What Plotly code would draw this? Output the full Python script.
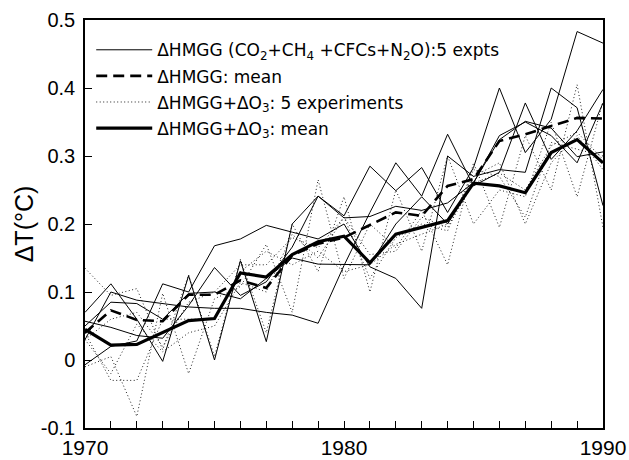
import plotly.graph_objects as go

years = list(range(1970, 1991))

# Delta HMGG: 5 experiments (thin solid)
hmgg_a = [0.07, 0.112, 0.06, -0.002, 0.124, 0.0, 0.146, 0.027, 0.2, 0.241, 0.212, 0.285, 0.249, 0.283, 0.217, 0.283, 0.4, 0.305, 0.354, 0.483, 0.466]
hmgg_b = [0.03, 0.1, 0.088, 0.083, 0.078, 0.076, 0.076, 0.07, 0.066, 0.054, 0.139, 0.217, 0.29, 0.241, 0.332, 0.256, 0.276, 0.378, 0.295, 0.337, 0.398]
hmgg_c = [-0.007, 0.02, 0.028, 0.112, 0.1, 0.168, 0.178, 0.198, 0.188, 0.178, 0.2, 0.137, 0.12, 0.076, 0.3, 0.27, 0.28, 0.276, 0.4, 0.371, 0.227]
hmgg_d = [0.05, 0.085, 0.083, 0.06, 0.098, 0.1, 0.09, 0.12, 0.15, 0.141, 0.14, 0.14, 0.2, 0.24, 0.2, 0.26, 0.33, 0.35, 0.33, 0.29, 0.378]
hmgg_e = [0.057, 0.048, 0.036, 0.032, 0.08, 0.136, 0.095, 0.115, 0.166, 0.241, 0.209, 0.211, 0.226, 0.22, 0.231, 0.261, 0.324, 0.351, 0.341, 0.299, 0.306]

# Delta HMGG: mean (dashed)
hmgg_mean = [0.04, 0.073, 0.059, 0.057, 0.096, 0.096, 0.117, 0.106, 0.154, 0.171, 0.18, 0.198, 0.217, 0.212, 0.256, 0.266, 0.322, 0.332, 0.344, 0.356, 0.355]

# Delta HMGG + Delta O3: 5 experiments (dotted)
o3_p = [0.135, 0.095, 0.105, 0.015, 0.125, 0.005, 0.148, 0.04, 0.2, 0.13, 0.24, 0.1, 0.25, 0.16, 0.3, 0.2, 0.25, 0.24, 0.35, 0.24, 0.38]
o3_q = [-0.01, 0.005, -0.083, 0.098, -0.02, 0.09, 0.108, 0.17, 0.07, 0.265, 0.12, 0.2, 0.165, 0.22, 0.14, 0.29, 0.195, 0.33, 0.25, 0.405, 0.195]
o3_r = [0.04, -0.03, -0.03, 0.06, 0.06, 0.06, 0.13, 0.16, 0.14, 0.16, 0.13, 0.14, 0.17, 0.185, 0.2, 0.27, 0.29, 0.2, 0.29, 0.33, 0.28]
o3_s = [0.03, 0.06, 0.07, 0.02, 0.085, 0.1, 0.14, 0.14, 0.18, 0.165, 0.21, 0.12, 0.18, 0.2, 0.19, 0.28, 0.27, 0.21, 0.32, 0.31, 0.3]
o3_u = [0.03, -0.02, 0.053, 0.012, 0.04, 0.05, 0.114, 0.1, 0.185, 0.15, 0.21, 0.155, 0.16, 0.21, 0.195, 0.26, 0.275, 0.25, 0.315, 0.335, 0.295]

# Delta HMGG + Delta O3: mean (thick solid)
o3_mean = [0.045, 0.022, 0.023, 0.041, 0.058, 0.061, 0.128, 0.122, 0.155, 0.174, 0.182, 0.143, 0.185, 0.195, 0.205, 0.26, 0.256, 0.246, 0.305, 0.324, 0.29]

names = [
    "\u0394HMGG (CO<sub>2</sub>+CH<sub>4</sub> +CFCs+N<sub>2</sub>O):5 expts",
    "\u0394HMGG: mean",
    "\u0394HMGG+\u0394O<sub>3</sub>: 5 experiments",
    "\u0394HMGG+\u0394O<sub>3</sub>: mean",
]

x_tickvals = years
x_labels = {1970: "1970", 1980: "1980", 1990: "1990"}
x_ticktext = [x_labels.get(y, "") for y in years]
y_tickvals = [-0.1, 0.0, 0.1, 0.2, 0.3, 0.4, 0.5]
y_ticktext = ["-0.1", "0", "0.1", "0.2", "0.3", "0.4", "0.5"]

fig = go.Figure()

for i, s in enumerate([o3_p, o3_q, o3_r, o3_s, o3_u]):
    fig.add_trace(go.Scatter(x=years, y=s, mode="lines", name=names[2], legendgroup="g3",
                             showlegend=(i == 0), legendrank=3,
                             line=dict(color="#222222", width=1, dash="1px,2.5px")))
for i, s in enumerate([hmgg_a, hmgg_b, hmgg_c, hmgg_d, hmgg_e]):
    fig.add_trace(go.Scatter(x=years, y=s, mode="lines", name=names[0], legendgroup="g1",
                             showlegend=(i == 0), legendrank=1,
                             line=dict(color="black", width=1)))
fig.add_trace(go.Scatter(x=years, y=hmgg_mean, mode="lines", name=names[1], legendgroup="g2",
                         legendrank=2, line=dict(color="black", width=2.6, dash="11px,6px")))
fig.add_trace(go.Scatter(x=years, y=o3_mean, mode="lines", name=names[3], legendgroup="g4",
                         legendrank=4, line=dict(color="black", width=3.2)))

fig.update_layout(
    width=629, height=460,
    margin=dict(l=85, r=26, t=20, b=32),
    paper_bgcolor="white", plot_bgcolor="white",
    font=dict(family="Liberation Sans", color="black"),
    legend=dict(x=0.012, y=0.97, xanchor="left", yanchor="top",
                font=dict(size=17, family="DejaVu Sans"),
                bgcolor="rgba(0,0,0,0)", itemwidth=56,
                traceorder="grouped", tracegroupgap=1),
    xaxis=dict(range=[1970, 1990], tickmode="array", tickvals=x_tickvals, ticktext=x_ticktext,
               ticks="inside", ticklen=7, tickwidth=1, tickcolor="black",
               showline=True, linecolor="black", linewidth=1.5, mirror=True,
               showgrid=False, zeroline=False, tickfont=dict(size=21),
               ticklabeloverflow="allow", automargin=False),
    yaxis=dict(range=[-0.1, 0.5], tickmode="array", tickvals=y_tickvals, ticktext=y_ticktext,
               ticks="inside", ticklen=7, tickwidth=1, tickcolor="black",
               showline=True, linecolor="black", linewidth=1.5, mirror=True,
               showgrid=False, zeroline=False, tickfont=dict(size=20),
               automargin=False, ticklabelstandoff=4,
               title=dict(text="\u0394T(\u00b0C)", font=dict(size=25), standoff=0)),
)

fig.write_html("out.html")
